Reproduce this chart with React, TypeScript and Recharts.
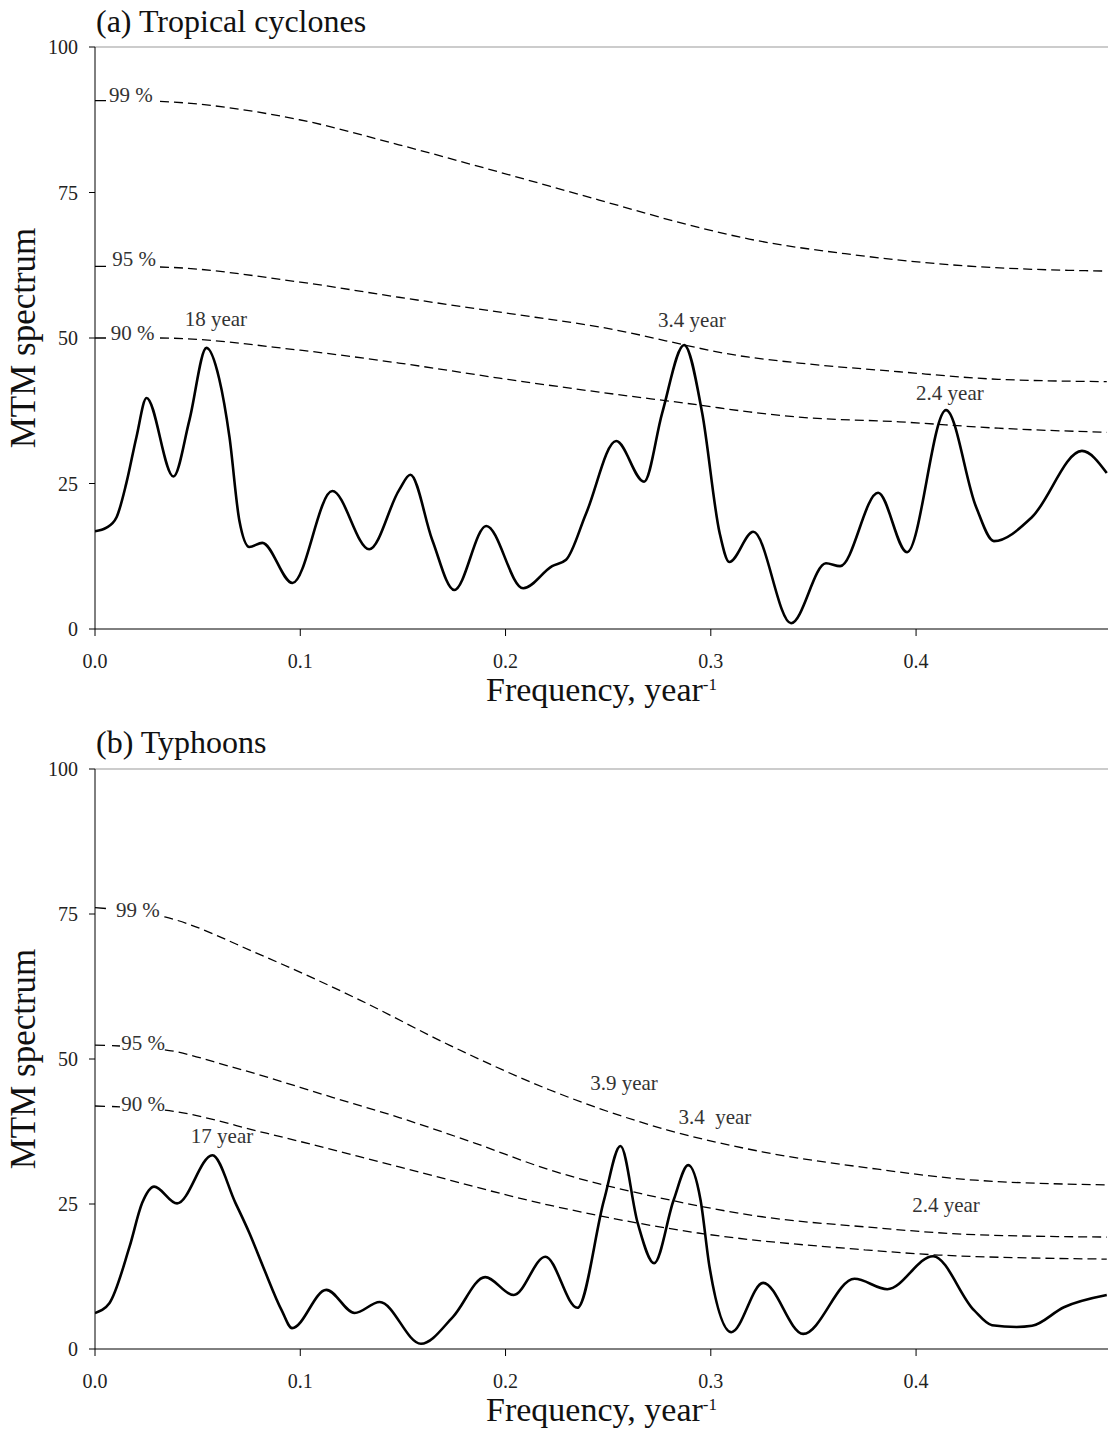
import React from 'react';
import { LineChart, Line, XAxis, YAxis, ReferenceLine, ReferenceDot, Label } from 'recharts';

const FONT = '"Liberation Serif", "Times New Roman", serif';
const X_MAX = 0.4935;
const xTicks = [0, 0.1, 0.2, 0.3, 0.4];
const yTicks = [0, 25, 50, 75, 100];

// ---- Panel (a) Tropical cyclones ----
const freqA = [0, 0.0056, 0.0105, 0.0153, 0.0202, 0.0251, 0.0382, 0.046, 0.0543, 0.0605, 0.0655, 0.0703, 0.0752, 0.0815, 0.0962, 0.1156, 0.1336, 0.1482, 0.1536, 0.1643, 0.175, 0.1906, 0.2086, 0.2227, 0.2295, 0.2393, 0.2539, 0.2675, 0.2763, 0.287, 0.2958, 0.3043, 0.309, 0.3207, 0.3391, 0.3561, 0.363, 0.3815, 0.3956, 0.4146, 0.4292, 0.4379, 0.4564, 0.4808, 0.4929];
const specA = [16.8, 17.4, 19.2, 25.1, 33.0, 39.7, 26.2, 35.9, 48.3, 43.0, 33.0, 18.7, 14.1, 14.8, 7.9, 23.7, 13.7, 23.9, 26.5, 15.3, 6.7, 17.7, 7.0, 10.8, 11.9, 19.9, 32.3, 25.3, 37.1, 48.8, 37.1, 16.5, 11.5, 16.7, 1.0, 11.3, 10.8, 23.4, 13.2, 37.6, 21.0, 15.1, 19.2, 30.6, 26.8];

const f99A = [0, 0.0265, 0.0996, 0.148, 0.197, 0.2456, 0.294, 0.3187, 0.3673, 0.416, 0.45, 0.4929];
const v99A = [90.8, 90.7, 87.5, 83.2, 78.5, 73.7, 69.0, 67.0, 64.4, 62.6, 61.9, 61.5];
const f95A = [0, 0.031, 0.1, 0.148, 0.2, 0.2456, 0.3187, 0.343, 0.3917, 0.44, 0.4929];
const v95A = [62.3, 62.2, 59.6, 57.0, 54.3, 51.9, 46.7, 45.7, 44.2, 42.9, 42.5];
const f90A = [0, 0.031, 0.1, 0.148, 0.197, 0.2456, 0.294, 0.3187, 0.343, 0.3917, 0.44, 0.4929];
const v90A = [50.0, 50.0, 47.9, 45.7, 43.1, 40.7, 38.5, 37.3, 36.4, 35.6, 34.5, 33.8];

const tagTextA = ['99 %', '95 %', '90 %', '18 year', '3.4 year', '2.4 year'];
const tagFreqA = [0.0175, 0.019, 0.0183, 0.0589, 0.2908, 0.4165];
const tagValA = [91.8, 63.5, 50.9, 53.3, 53.1, 40.5];

// ---- Panel (b) Typhoons ----
const freqB = [0, 0.007, 0.0168, 0.023, 0.0288, 0.040, 0.0572, 0.0684, 0.0752, 0.082, 0.0909, 0.096, 0.1127, 0.1265, 0.1387, 0.1588, 0.1743, 0.1901, 0.204, 0.2194, 0.235, 0.248, 0.256, 0.2644, 0.2724, 0.2819, 0.289, 0.295, 0.2994, 0.31, 0.3255, 0.345, 0.37, 0.386, 0.4083, 0.4282, 0.437, 0.449, 0.4565, 0.472, 0.4929];
const specB = [6.2, 7.9, 17.6, 25.2, 28.0, 25.1, 33.4, 25.2, 20.0, 14.1, 6.7, 3.6, 10.2, 6.2, 8.1, 0.9, 5.5, 12.4, 9.3, 15.9, 7.1, 25.7, 35.0, 21.7, 14.8, 25.7, 31.7, 25.7, 14.1, 2.9, 11.4, 2.6, 12.1, 10.3, 16.0, 6.7, 4.1, 3.8, 4.0, 7.2, 9.3];

const f99B = [0, 0.034, 0.081, 0.1288, 0.1726, 0.2213, 0.2785, 0.325, 0.377, 0.429, 0.4929];
const v99B = [76.1, 74.5, 67.9, 60.2, 52.4, 44.7, 37.8, 34.0, 31.2, 29.1, 28.3];
const f95B = [0, 0.0338, 0.0669, 0.1156, 0.1482, 0.185, 0.2213, 0.2734, 0.325, 0.377, 0.429, 0.4929];
const v95B = [52.4, 51.6, 48.6, 43.4, 39.9, 35.5, 30.9, 26.2, 22.8, 21.0, 19.7, 19.3];
const f90B = [0, 0.0338, 0.0835, 0.1482, 0.2213, 0.2938, 0.375, 0.411, 0.4929];
const v90B = [41.9, 41.2, 37.2, 31.4, 24.8, 20.0, 17.1, 16.2, 15.5];

const tagTextB = ['99 %', '95 %', '90 %', '17 year', '3.9 year', '3.4  year', '2.4 year'];
const tagFreqB = [0.0209, 0.0234, 0.0234, 0.0619, 0.2577, 0.302, 0.4146];
const tagValB = [75.7, 52.8, 42.2, 36.7, 45.9, 40.0, 24.8];

const zip = (f: number[], v: number[]) => f.map((x, i) => ({ f: x, v: v[i] }));
const dashes = (lead: string) => lead + ' 9 5'.repeat(220);

const XLabel = (props: any) => {
  const vb = props.viewBox || {};
  const cx = vb.x + vb.width / 2;
  const y = vb.y + 72;
  return (
    <text x={cx} y={y} textAnchor="middle" fontSize={34} fontFamily={FONT} fill="#111">
      Frequency, year<tspan dy={-11} fontSize={17}>-1</tspan>
    </text>
  );
};

const YLabel = (props: any) => {
  const vb = props.viewBox || {};
  const cy = vb.y + vb.height / 2;
  const x = 35;
  return (
    <text x={x} y={cy} transform={`rotate(-90, ${x}, ${cy})`} textAnchor="middle" fontSize={35} fontFamily={FONT} fill="#111">
      MTM spectrum
    </text>
  );
};

type Thr = { data: { f: number; v: number }[]; dash: string };

function Panel(props: {
  title: string;
  titleTop: number;
  top: number;
  height: number;
  marginTop: number;
  xAxisHeight: number;
  spectrum: { f: number; v: number }[];
  thresholds: Thr[];
  tagText: string[];
  tagFreq: number[];
  tagVal: number[];
}) {
  const { title, titleTop, top, height, marginTop, xAxisHeight, spectrum, thresholds, tagText, tagFreq, tagVal } = props;
  const tickStyle = { fill: '#222', fontSize: 20, fontFamily: FONT };
  return (
    <div style={{ position: 'absolute', left: 0, top, width: 1108, height }}>
      <LineChart width={1108} height={height} margin={{ top: marginTop, right: 0, bottom: 0, left: 0 }}>
        <XAxis
          type="number"
          dataKey="f"
          domain={[0, X_MAX]}
          ticks={xTicks}
          tickFormatter={(v: number) => v.toFixed(1)}
          allowDataOverflow
          height={xAxisHeight}
          tickSize={7}
          tickMargin={18}
          stroke="#000"
          tick={tickStyle}
        >
          <Label content={XLabel} />
        </XAxis>
        <YAxis
          type="number"
          domain={[0, 100]}
          ticks={yTicks}
          width={95}
          tickSize={6}
          tickMargin={11}
          stroke="#000"
          tick={tickStyle}
          allowDataOverflow
        >
          <Label content={YLabel} />
        </YAxis>
        <ReferenceLine y={100} stroke="#999" strokeWidth={1} />
        {thresholds.map((t, i) => (
          <Line
            key={'t' + i}
            data={t.data}
            dataKey="v"
            type="monotone"
            stroke="#000"
            strokeWidth={1.3}
            strokeDasharray={t.dash}
            dot={false}
            activeDot={false}
            isAnimationActive={false}
          />
        ))}
        <Line
          data={spectrum}
          dataKey="v"
          type="monotone"
          stroke="#000"
          strokeWidth={2.6}
          dot={false}
          activeDot={false}
          isAnimationActive={false}
        />
        {tagText.map((txt, i) => (
          <ReferenceDot
            key={'g' + i}
            x={tagFreq[i]}
            y={tagVal[i]}
            r={0}
            shape={(p: any) => (
              <text
                x={p.cx}
                y={p.cy + 7}
                textAnchor="middle"
                fontSize={21}
                fontFamily={FONT}
                fill="#333"
                style={{ whiteSpace: 'pre' }}
              >
                {txt}
              </text>
            )}
          />
        ))}
      </LineChart>
      <div
        style={{
          position: 'absolute',
          left: 96,
          top: titleTop,
          fontSize: 32,
          lineHeight: '32px',
          fontFamily: FONT,
          color: '#111',
          whiteSpace: 'nowrap',
        }}
      >
        {title}
      </div>
    </div>
  );
}

export default function App() {
  const thrA: Thr[] = [
    { data: zip(f99A, v99A), dash: dashes('11 54') },
    { data: zip(f95A, v95A), dash: dashes('11 54') },
    { data: zip(f90A, v90A), dash: dashes('11 54') },
  ];
  const thrB: Thr[] = [
    { data: zip(f99B, v99B), dash: dashes('11 59') },
    { data: zip(f95B, v95B), dash: dashes('10 7 8 45') },
    { data: zip(f90B, v90B), dash: dashes('10 7 8 45') },
  ];
  return (
    <div style={{ position: 'absolute', left: 0, top: 0, width: 1108, height: 1434, overflow: 'hidden', background: '#fff' }}>
      <Panel
        title="(a) Tropical cyclones"
        titleTop={5}
        top={0}
        height={715}
        marginTop={47}
        xAxisHeight={86}
        spectrum={zip(freqA, specA)}
        thresholds={thrA}
        tagText={tagTextA}
        tagFreq={tagFreqA}
        tagVal={tagValA}
      />
      <Panel
        title="(b) Typhoons"
        titleTop={11}
        top={715}
        height={719}
        marginTop={54}
        xAxisHeight={85}
        spectrum={zip(freqB, specB)}
        thresholds={thrB}
        tagText={tagTextB}
        tagFreq={tagFreqB}
        tagVal={tagValB}
      />
    </div>
  );
}
